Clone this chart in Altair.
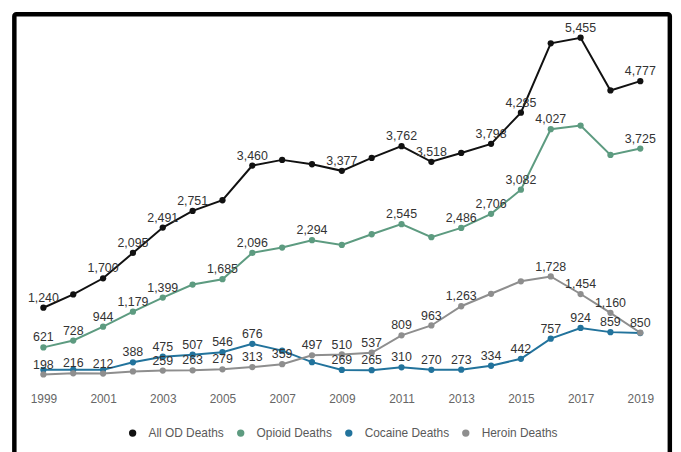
import altair as alt
import pandas as pd

years = list(range(1999, 2020))
series_names = ["All OD Deaths", "Opioid Deaths", "Cocaine Deaths", "Heroin Deaths"]
colors = ["#111111", "#5d9b80", "#22739c", "#8e8e8e"]

all_od = [1240, 1447, 1700, 2095, 2491, 2751, 2918, 3460, 3548, 3480, 3377,
          3579, 3762, 3518, 3656, 3798, 4285, 5368, 5455, 4632, 4777]
opioid = [621, 728, 944, 1179, 1399, 1602, 1685, 2096, 2180, 2294, 2221,
          2387, 2545, 2341, 2486, 2706, 3082, 4027, 4084, 3625, 3725]
cocaine = [270, 272, 270, 388, 475, 507, 546, 676, 570, 390, 269,
           265, 310, 270, 273, 334, 442, 757, 924, 859, 845]
heroin = [198, 216, 212, 245, 259, 263, 279, 313, 359, 497, 510,
          537, 809, 963, 1263, 1458, 1653, 1728, 1454, 1160, 850]

labeled_years = {
    "All OD Deaths": [1999, 2001, 2002, 2003, 2004, 2006, 2009, 2011, 2012, 2014, 2015, 2017, 2019],
    "Opioid Deaths": [1999, 2000, 2001, 2002, 2003, 2005, 2006, 2008, 2011, 2013, 2014, 2015, 2016, 2019],
    "Cocaine Deaths": [2002, 2003, 2004, 2005, 2006, 2009, 2010, 2011, 2012, 2013, 2014, 2015, 2016, 2017, 2018],
    "Heroin Deaths": [1999, 2000, 2001, 2003, 2004, 2005, 2006, 2007, 2008, 2009, 2010, 2011, 2012, 2013, 2016, 2017, 2018, 2019],
}

rows = []
for name, vals in zip(series_names, [all_od, opioid, cocaine, heroin]):
    for yr, v in zip(years, vals):
        rows.append({"year": yr, "deaths": v, "series": name,
                     "show": yr in labeled_years[name]})
df = pd.DataFrame(rows)

x_enc = alt.X("year:Q", scale=alt.Scale(domain=[1999, 2019], nice=False, zero=False),
              axis=alt.Axis(values=list(range(1999, 2020, 2)), format="d", title=None,
                            grid=False, domain=False, ticks=False, labelPadding=6,
                            labelFlush=False, labelFontSize=12, labelColor="#666666",
                            labelFont="Liberation Sans"))
y_enc = alt.Y("deaths:Q", scale=alt.Scale(domain=[0, 5800], nice=False), axis=None)
color_enc = alt.Color("series:N", scale=alt.Scale(domain=series_names, range=colors),
                      sort=series_names,
                      legend=alt.Legend(title=None, orient="none", direction="horizontal",
                                        legendX=84, legendY=415, symbolType="circle",
                                        symbolSize=55, symbolStrokeWidth=0,
                                        labelFontSize=12, labelColor="#5a5a5a",
                                        labelFont="Liberation Sans", columnPadding=10,
                                        labelOffset=10, padding=0))

base = alt.Chart(df)

lines = base.mark_line(strokeWidth=2).encode(x=x_enc, y=y_enc, color=color_enc,
                                              detail="series:N")
points = base.mark_circle(size=40, opacity=1).encode(x=x_enc, y=y_enc, color=color_enc)
texts = base.transform_filter("datum.show").mark_text(
    dy=-10, fontSize=12.5, font="Liberation Sans", color="#333333"
).encode(x=x_enc, y=y_enc, text=alt.Text("deaths:Q", format=","))

frame_df = pd.DataFrame({"k": [0]})
frame = alt.Chart(frame_df).mark_rect(fill=None, stroke="black", strokeWidth=4.5,
                                       cornerRadius=2).encode(
    x=alt.value(-29.3), x2=alt.value(631.8), y=alt.value(-1.3), y2=alt.value(470)
)

chart = alt.layer(frame, lines, points, texts).properties(
    width=602, height=374.7,
    autosize=alt.AutoSizeParams(type="none"),
    padding={"left": 35.7, "top": 5.8, "right": 33, "bottom": 63.5},
).configure(background="white").configure_view(stroke=None)

chart.save("out.html", embed_options={"renderer": "svg", "actions": False})
